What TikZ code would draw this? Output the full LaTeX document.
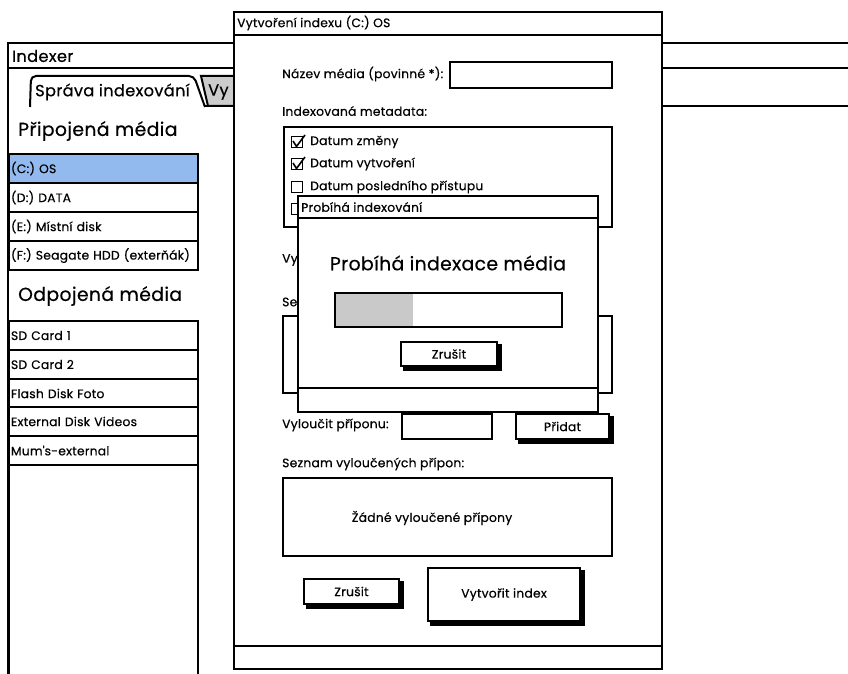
\documentclass[tikz,border=0pt]{standalone}
\usepackage{fontspec}
\setmainfont{Poppins}[LetterSpace=2, UprightFeatures={FakeBold=0.5}]
\usetikzlibrary{positioning}
\definecolor{selfill}{HTML}{92BAEE}
\definecolor{tabfill}{HTML}{CCCCCC}
\definecolor{barfill}{HTML}{C9C9C9}
\newcommand{\wfbody}{\fontsize{12.3}{14}\selectfont}
\newcommand{\wfhead}{\fontsize{18.8}{22}\selectfont}
\newcommand{\wftab}{\fontsize{16.2}{19}\selectfont}
\tikzset{
  wire/.style={draw=black, line width=2pt},
  panel/.style={
    wire, fill=white, anchor=north west, inner sep=0pt
  },
  listitem/.style={
    panel, minimum width=189pt, minimum height=29pt, text width=185pt,
    inner xsep=2pt, align=left, font=\wfbody
  },
  label/.style={anchor=west, inner sep=0pt, font=\wfbody},
  button/.style={panel, font=\wfbody},
  btnshadow/.style={draw=black, line width=3.5pt},
  chkbox/.style={draw=black, line width=1.3pt, minimum size=10.5pt, inner sep=0pt},
  tick/.style={draw=black, line width=1.6pt, line join=round}
}

\begin{document}
\begin{tikzpicture}[x=1pt,y=-1pt]
  \useasboundingbox (0,0) rectangle (848,674);

  % Main window (Indexer)
  \draw[wire] (860,43) -- (8,43) -- (8,690);
  \draw[wire] (8,68) -- (860,68);
  \node[label, font=\wftab] (apptitle) at (12,56) {Indexer};
  \draw[wire] (205,106) -- (860,106);
  \filldraw[wire, fill=tabfill] (201,76) -- (240,76) -- (240,106) -- (208,106) -- cycle;
  \node[label, font=\wftab] (tabtwo) at (208,92) {Vy};
  \filldraw[wire, fill=white, rounded corners=5pt] (30,107) -- (31,76) -- (194,76) -- (205,107);
  \node[label, font=\wftab] (tabone) at (35,92) {Správa indexování};

  % Media lists
  \node[label, font=\wfhead] (connhead) at (18,131) {Připojená média};
  \node[listitem, fill=selfill] (medc) at (8,153) {(C:) OS};
  \node[listitem] (medd) at (8,182) {(D:) DATA};
  \node[listitem] (mede) at (8,211) {(E:) Místní disk};
  \node[listitem] (medf) at (8,240) {(F:) Seagate HDD (exterňák)};
  \node[label, font=\wfhead] (offhead) at (18,296) {Odpojená média};
  \node[listitem] (offa) at (8,320) {SD Card 1};
  \node[listitem] (offb) at (8,349) {SD Card 2};
  \node[listitem] (offc) at (8,378) {Flash Disk Foto};
  \node[listitem] (offd) at (8,406) {External Disk Videos};
  \node[listitem] (offe) at (8,435) {Mum\textquotesingle s-external};
  \node[listitem, minimum height=240pt] (offrest) at (8,464) {};

  % Dialog: create index
  \node[panel, minimum width=428pt, minimum height=657pt] (dlg) at (233,11) {};
  \draw[wire] (233,35) -- (661,35);
  \draw[wire] (233,646) -- (661,646);
  \node[label] (dlgtitle) at (237,23) {Vytvoření indexu (C:) OS};

  \node[label] (namelbl) at (282,74) {Název média (povinné *):};
  \node[panel, minimum width=162pt, minimum height=26pt] (namebox) at (449,61) {};
  \node[label] (metalbl) at (282,111) {Indexovaná metadata:};
  \node[panel, minimum width=328pt, minimum height=100pt] (metabox) at (283,126) {};
  \foreach \y/\txt in {142/Datum změny, 164/Datum vytvoření,
                       187/Datum posledního přístupu, 209/{}} {
    \node[chkbox] at (297,\y) {};
    \node[label] at (310,\y) {\txt};
  }
  \draw[tick] (293,141) -- (296.5,146.5) -- (305,135);
  \draw[tick] (293,163) -- (296.5,168.5) -- (305,157);

  \node[label] (hidlbl) at (282,260) {Vy};
  \node[label] (hidlist) at (282,302) {Se};
  \node[panel, minimum width=329pt, minimum height=77pt] (hidbox) at (282,315) {};

  \node[label] (extlbl) at (282,425) {Vyloučit příponu:};
  \node[panel, minimum width=90pt, minimum height=25pt] (extbox) at (401,413) {};
  \node[button, minimum width=93pt, minimum height=25pt] (addbtn) at (515,413) {Přidat};
  \node[label] (listlbl) at (282,464) {Seznam vyloučených přípon:};
  \node[panel, minimum width=329pt, minimum height=78pt] (listbox) at (282,477) {};
  \node[font=\wfbody] (emptytxt) at (432,518) {Žádné vyloučené přípony};
  \node[button, minimum width=95pt, minimum height=25pt] (cancelbtn) at (303,578) {Zrušit};
  \node[button, minimum width=152pt, minimum height=53pt] (createbtn) at (427,567) {Vytvořit index};
  \foreach \b in {addbtn,cancelbtn,createbtn}
    \draw[btnshadow] ([xshift=2pt,yshift=-3pt]\b.north east) -- ([xshift=2pt,yshift=-2pt]\b.south east)
      -- ([xshift=3pt,yshift=-2pt]\b.south west);

  % Progress dialog on top
  \node[panel, minimum width=300pt, minimum height=216pt] (prog) at (297,195) {};
  \draw[wire] (297,218) -- (597,218);
  \draw[wire] (297,388) -- (597,388);
  \node[label] (progtitle) at (301,207) {Probíhá indexování};
  \node[font=\wfhead] (progmsg) at (448,263) {Probíhá indexace média};
  \fill[barfill] (334,292) rectangle (413,326);
  \node[panel, fill=none, minimum width=227pt, minimum height=34pt] (progbar) at (334,292) {};
  \node[button, minimum width=96pt, minimum height=24pt] (progcancel) at (400,341) {Zrušit};
  \draw[btnshadow] ([xshift=2pt,yshift=-3pt]progcancel.north east) -- ([xshift=2pt,yshift=-2pt]progcancel.south east)
    -- ([xshift=3pt,yshift=-2pt]progcancel.south west);
\end{tikzpicture}
\end{document}
